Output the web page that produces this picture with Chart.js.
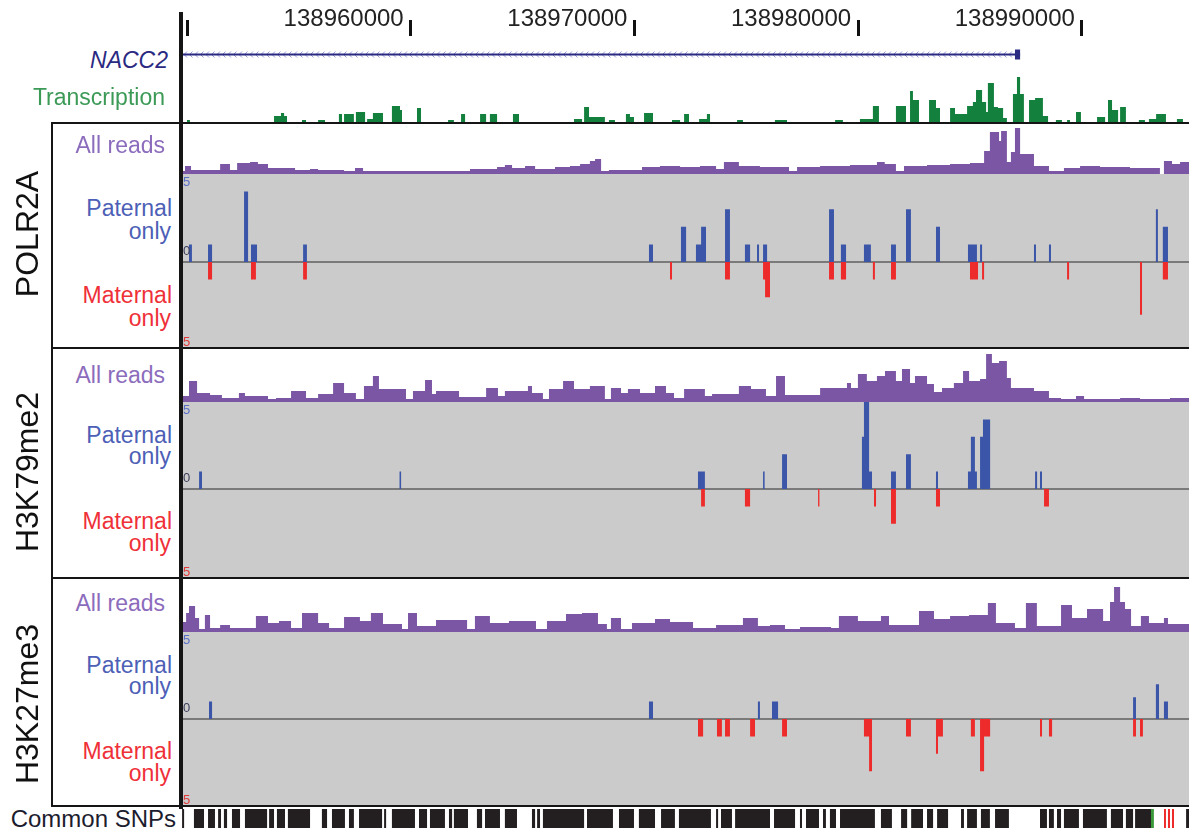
<!DOCTYPE html>
<html lang="en">
<head>
<meta charset="utf-8">
<title>NACC2 allele-specific tracks</title>
<script src="https://cdn.jsdelivr.net/npm/chart.js@4.4.1/dist/chart.umd.min.js"></script>
<style>
  html, body { margin: 0; padding: 0; background: #fff; }
  #fig { position: relative; width: 1189px; height: 832px; overflow: hidden; background: #fff;
         font-family: "Liberation Sans", Arial, Helvetica, sans-serif; }
  #fig canvas { position: absolute; }
  .lbl { position: absolute; white-space: nowrap; line-height: 1; font-size: 23px; }
  .rule { position: absolute; background: #151515; z-index: 5; }
  .scl { position: absolute; font-size: 13px; line-height: 1; z-index: 4; }
  .name { position: absolute; font-size: 32px; line-height: 1; white-space: nowrap; color: #111;
          transform: translate(-50%, -50%) rotate(-90deg); }
</style>
</head>
<body>
<div id="fig"></div>
<script>
// positions are kb from chr9:138,950,000
const REGION_ORIGIN = 138950000;
const VIEW_MIN = -0.224, VIEW_MAX = 44.79;
const axisTicks = [0, 10, 20, 30, 40];

// NACC2 (minus strand), only the 5' end is in view
const geneSpan = [-2, 37.24];
const geneExon = [37.01, 37.24];

// RNA signal: [start, end, level]
const transcription = [
  [0.00, 0.13, 2], [3.89, 4.20, 6], [4.20, 4.34, 9], [4.34, 4.47, 6], [5.14, 5.32, 2], [5.86, 6.17, 2],
  [6.79, 6.93, 8], [7.02, 7.46, 8], [7.55, 7.96, 10], [8.05, 8.31, 3], [8.31, 8.76, 9], [9.16, 9.52, 16],
  [9.52, 9.61, 12], [10.28, 10.46, 14], [11.67, 11.93, 2], [12.25, 12.43, 8], [13.10, 13.37, 8],
  [13.54, 13.86, 8], [14.57, 14.84, 8], [17.30, 17.66, 3], [17.75, 17.97, 15], [17.97, 18.68, 5],
  [18.86, 19.13, 2], [19.62, 19.80, 8], [19.80, 19.98, 5], [20.43, 20.83, 9], [21.68, 22.04, 2],
  [22.22, 22.44, 8], [22.89, 23.24, 3], [23.24, 23.38, 8], [24.59, 24.85, 2], [26.28, 26.82, 2],
  [28.97, 29.32, 2], [30.08, 30.66, 3], [30.66, 30.93, 16], [31.69, 32.14, 16], [32.32, 32.45, 31],
  [32.45, 32.72, 22], [33.17, 33.48, 22], [33.48, 33.66, 14], [34.11, 34.33, 14], [34.33, 34.87, 8],
  [34.87, 35.13, 16], [35.13, 35.27, 20], [35.27, 35.54, 32], [35.54, 35.72, 20], [35.72, 35.80, 10],
  [35.80, 36.07, 39], [36.07, 36.25, 15], [36.25, 36.48, 14], [36.48, 36.65, 4], [36.92, 37.10, 28],
  [37.10, 37.24, 45], [37.24, 37.41, 28], [37.64, 37.91, 22], [37.91, 38.26, 24], [38.26, 38.49, 6],
  [38.84, 39.11, 2], [39.34, 39.47, 2], [39.74, 39.96, 10], [40.68, 41.04, 5], [41.17, 41.35, 22],
  [41.35, 41.62, 12], [41.71, 41.97, 15], [42.55, 42.82, 2], [43.00, 43.32, 3], [43.32, 43.76, 8],
  [44.25, 44.52, 3]
];

// all-reads coverage: [position, level], each level holds until the next position
const polReads = [
  [-0.25, 3], [-0.09, 8], [0.18, 4], [1.48, 10], [1.92, 4], [2.24, 11], [2.82, 12], [3.17, 10],
  [3.62, 6], [4.83, 4], [5.50, 5], [5.86, 4], [7.02, 3], [7.51, 6], [7.87, 3], [12.65, 5],
  [13.86, 7], [14.21, 9], [14.53, 6], [15.11, 8], [15.56, 5], [16.45, 7], [17.12, 8], [17.57, 10],
  [18.01, 13], [18.24, 15], [18.51, 3], [18.86, 4], [20.34, 7], [21.14, 8], [22.04, 7], [22.93, 8],
  [23.65, 5], [24.00, 12], [24.67, 8], [25.61, 7], [26.91, 3], [27.27, 7], [28.30, 8], [29.64, 9],
  [30.84, 12], [31.19, 10], [31.69, 3], [32.05, 8], [33.08, 9], [34.11, 10], [35.00, 11], [35.63, 23],
  [35.89, 42], [36.30, 33], [36.39, 43], [36.65, 12], [36.83, 22], [37.01, 46], [37.24, 20],
  [37.86, 8], [38.53, 3], [39.20, 6], [39.92, 8], [40.81, 7], [42.15, 6], [43.49, 0], [43.67, 13],
  [44.03, 10], [44.39, 12]
];
const k79Reads = [
  [-0.25, 6], [0.09, 21], [0.45, 9], [1.03, 7], [1.56, 4], [2.32, 9], [2.59, 6], [3.62, 3],
  [3.98, 4], [4.65, 11], [5.32, 4], [5.86, 8], [6.53, 19], [7.02, 9], [7.55, 3], [7.91, 16],
  [8.31, 26], [8.58, 13], [9.79, 3], [10.10, 11], [10.64, 22], [10.95, 8], [11.13, 11], [12.16, 5],
  [13.37, 14], [13.90, 6], [14.21, 11], [15.24, 16], [15.42, 9], [15.91, 3], [16.18, 13], [16.81, 21],
  [17.30, 13], [18.01, 16], [18.68, 3], [18.95, 14], [19.40, 9], [19.71, 13], [20.25, 9], [20.92, 16],
  [21.41, 9], [21.77, 4], [22.22, 13], [23.15, 6], [23.47, 8], [24.67, 16], [25.21, 13], [25.88, 6],
  [26.33, 26], [26.73, 7], [28.30, 14], [29.50, 19], [29.68, 14], [29.99, 28], [30.39, 21],
  [30.84, 26], [31.20, 31], [31.69, 21], [31.96, 33], [32.32, 19], [32.54, 26], [33.08, 18],
  [33.39, 10], [33.75, 14], [34.28, 19], [34.69, 31], [34.96, 21], [35.45, 23], [35.72, 48],
  [35.98, 39], [36.30, 41], [36.65, 24], [36.83, 14], [37.86, 11], [38.53, 4], [39.07, 3],
  [39.74, 6], [40.10, 3], [41.71, 4], [42.60, 3], [43.94, 4]
];
const k27Reads = [
  [-0.25, 10], [-0.04, 19], [0.09, 26], [0.36, 14], [0.54, 3], [0.80, 17], [1.03, 4], [1.48, 7],
  [1.92, 4], [3.08, 16], [3.62, 9], [4.11, 11], [4.65, 4], [5.14, 19], [5.86, 9], [6.35, 4],
  [7.02, 15], [7.73, 11], [8.22, 19], [8.76, 8], [9.61, 3], [9.88, 19], [10.28, 6], [11.13, 12],
  [12.52, 3], [12.87, 16], [13.54, 9], [14.39, 11], [15.60, 3], [16.09, 11], [16.94, 18], [17.66, 19],
  [18.37, 8], [18.77, 3], [18.95, 14], [19.40, 3], [19.89, 9], [20.92, 13], [21.59, 10], [22.62, 4],
  [23.65, 7], [24.85, 14], [25.52, 6], [26.06, 7], [26.73, 3], [27.40, 5], [28.79, 4], [29.14, 16],
  [29.99, 11], [31.02, 16], [31.38, 7], [32.72, 21], [33.39, 13], [34.11, 16], [34.96, 17],
  [35.80, 29], [36.16, 9], [37.01, 4], [37.50, 29], [37.99, 6], [39.07, 27], [39.56, 14], [40.23, 23],
  [40.95, 11], [41.26, 30], [41.44, 45], [41.71, 30], [41.93, 23], [42.20, 6], [42.64, 16],
  [43.00, 9], [43.67, 14], [43.85, 8]
];

// allele-specific reads at heterozygous SNPs: [start, end, count]
const polPaternal = [
  [0.09, 0.22, 1], [0.94, 1.12, 1], [2.55, 2.73, 4], [2.86, 3.13, 1], [5.19, 5.36, 1], [20.65, 20.83, 1],
  [22.08, 22.31, 2], [22.75, 22.98, 1], [22.98, 23.20, 2], [24.05, 24.27, 3], [24.94, 25.17, 1],
  [25.48, 25.57, 1], [25.75, 25.93, 1], [28.70, 28.92, 3], [29.23, 29.46, 1], [30.26, 30.57, 1],
  [31.47, 31.69, 1], [32.14, 32.36, 3], [33.48, 33.66, 2], [34.91, 35.31, 1], [35.45, 35.54, 1],
  [37.86, 37.95, 1], [38.53, 38.62, 1], [43.31, 43.40, 3], [43.62, 43.85, 2]
];
const polMaternal = [
  [0.94, 1.12, 1], [2.86, 3.08, 1], [5.19, 5.36, 1], [21.59, 21.68, 1], [24.05, 24.27, 1],
  [25.75, 25.84, 1], [25.84, 26.06, 2], [28.70, 28.92, 1], [29.23, 29.46, 1], [30.66, 30.75, 1],
  [31.47, 31.69, 1], [35.00, 35.36, 1], [35.54, 35.63, 1], [39.34, 39.43, 1], [42.60, 42.69, 3],
  [43.62, 43.85, 1]
];
const k79Paternal = [
  [0.54, 0.67, 1], [9.50, 9.57, 1], [22.84, 23.15, 1], [25.75, 25.82, 1], [26.60, 26.82, 2],
  [30.17, 30.26, 3], [30.26, 30.49, 5], [30.49, 30.62, 1], [31.47, 31.69, 1], [32.14, 32.36, 2],
  [33.48, 33.57, 1], [34.91, 35.04, 1], [35.04, 35.22, 3], [35.22, 35.31, 1], [35.45, 35.58, 3],
  [35.58, 35.90, 4], [37.91, 38.00, 1], [38.13, 38.22, 1]
];
const k79Maternal = [
  [22.98, 23.15, 1], [24.94, 25.17, 1], [28.21, 28.27, 1], [30.71, 30.80, 1], [31.47, 31.69, 2],
  [33.48, 33.66, 1], [38.31, 38.53, 1]
];
const k27Paternal = [
  [0.98, 1.12, 1], [20.65, 20.83, 1], [25.52, 25.61, 1], [26.15, 26.42, 1], [42.29, 42.42, 1.25],
  [43.31, 43.45, 2], [43.67, 43.85, 1]
];
const k27Maternal = [
  [22.84, 23.07, 1], [23.69, 23.91, 1], [24.05, 24.27, 1], [25.17, 25.39, 1], [26.60, 26.82, 1],
  [30.26, 30.49, 1], [30.49, 30.62, 3], [32.14, 32.36, 1], [33.48, 33.57, 2], [33.57, 33.79, 1],
  [35.04, 35.22, 1], [35.45, 35.63, 3], [35.63, 35.90, 1], [38.13, 38.22, 1], [38.53, 38.67, 1],
  [42.29, 42.42, 1], [42.60, 42.73, 1]
];

// common SNP density: [start, end]
const snpBlocks = [
  [-0.22, -0.13], [0.31, 0.76], [0.94, 1.25], [1.39, 1.52], [1.65, 1.79], [2.01, 2.37], [2.59, 3.58],
  [3.67, 3.89], [4.02, 4.38], [4.51, 5.50], [6.03, 6.26], [6.48, 7.06], [7.24, 7.46], [7.69, 8.72],
  [8.81, 8.90], [9.16, 10.19], [10.37, 10.73], [10.86, 11.53], [11.71, 11.85], [11.93, 12.56],
  [12.96, 13.19], [13.32, 13.99], [14.21, 14.75], [15.42, 15.56], [15.65, 15.78], [15.91, 17.75],
  [17.88, 19.04], [19.31, 19.98], [20.20, 20.92], [21.19, 21.81], [21.99, 23.42], [23.65, 23.74],
  [23.87, 24.36], [24.50, 26.06], [26.24, 27.18], [27.40, 27.49], [27.67, 28.25], [28.43, 28.56],
  [28.74, 29.01], [29.19, 30.75], [31.02, 31.51], [31.92, 32.19], [32.37, 32.90], [33.08, 33.35],
  [33.53, 34.02], [34.60, 34.73], [34.87, 35.31], [35.49, 35.89], [36.12, 36.74], [38.13, 38.44],
  [38.53, 38.75], [38.89, 39.07], [39.20, 39.87], [40.05, 41.12], [41.30, 41.84], [41.97, 42.29],
  [42.38, 43.09], [44.66, 44.79]
];
const snpGreen = [[43.09, 43.22]];
const snpRed = [[43.67, 43.76], [43.85, 43.94], [44.03, 44.12]];

const NAVY = '#2a2a82', GREEN = '#13803d', PURPLE = '#7b56a4', BLUE = '#3b56a9', RED = '#ee2b2b';

Chart.defaults.font.family = '"Liberation Sans", Arial, Helvetica, sans-serif';

const fig = document.getElementById('fig');
const W = 1189, TRACK_X = 182, TRACK_W = W - TRACK_X;

function makeCanvas(top, height, bg) {
  const c = document.createElement('canvas');
  c.width = TRACK_W; c.height = height;
  c.style.left = TRACK_X + 'px'; c.style.top = top + 'px';
  if (bg) c.style.background = bg;
  fig.appendChild(c);
  return c;
}

function addBox(cls, css, text) {
  const d = document.createElement('div');
  d.className = cls;
  Object.assign(d.style, css);
  if (text) d.textContent = text;
  fig.appendChild(d);
  return d;
}

function rule(left, top, width, height) {
  addBox('rule', { left: left + 'px', top: top + 'px', width: width + 'px', height: height + 'px' });
}

// right-aligned row label; capTop is where the cap line should sit
function rowLabel(text, right, capTop, color, extra) {
  addBox('lbl', Object.assign({ right: (W - right) + 'px', top: (capTop - 3) + 'px', color }, extra || {}), text);
}

// step outlines for intervals and coverage
function intervalPoints(list, sign) {
  const pts = [];
  list.forEach(([s, e, v]) => {
    pts.push({ x: s, y: sign * v });
    pts.push({ x: e, y: 0 });
  });
  return pts;
}
function coveragePoints(steps) {
  const pts = steps.map(([x, v]) => ({ x, y: v }));
  pts.push({ x: VIEW_MAX + 0.2, y: steps[steps.length - 1][1] });
  return pts;
}
function area(points, color) {
  return { data: points, stepped: true, fill: 'origin', backgroundColor: color,
           borderColor: 'transparent', borderWidth: 0, pointRadius: 0 };
}

function trackOptions(yMin, yMax, yExtra) {
  return {
    responsive: false, animation: false, events: [],
    layout: { padding: 0 },
    elements: { point: { radius: 0 }, line: { tension: 0 } },
    plugins: { legend: { display: false }, tooltip: { enabled: false } },
    scales: {
      x: { type: 'linear', min: VIEW_MIN, max: VIEW_MAX, display: false },
      y: Object.assign({ min: yMin, max: yMax, display: false }, yExtra || {})
    }
  };
}

// intron chevrons along the gene body
const intronArrows = {
  id: 'intronArrows',
  beforeDatasetsDraw(chart) {
    const xs = chart.scales.x, ys = chart.scales.y, ctx = chart.ctx;
    const x0 = Math.max(xs.getPixelForValue(geneSpan[0]), chart.chartArea.left);
    const x1 = xs.getPixelForValue(geneExon[0]);
    const y = ys.getPixelForValue(0);
    ctx.save();
    ctx.strokeStyle = '#9a9ad8';
    ctx.lineWidth = 1;
    ctx.beginPath();
    for (let x = x0 + 3; x < x1 - 2; x += 5.5) {
      ctx.moveTo(x + 2, y - 3);
      ctx.lineTo(x - 1, y);
      ctx.lineTo(x + 2, y + 3);
    }
    ctx.stroke();
    ctx.restore();
  }
};

// coordinate ruler + gene model
const headerOpts = trackOptions(-1, 1);
headerOpts.scales.x = {
  type: 'linear', position: 'top', min: VIEW_MIN, max: VIEW_MAX, offset: false,
  afterBuildTicks: s => { s.ticks = axisTicks.map(v => ({ value: v })); },
  afterFit: s => { s.height = 36; },
  border: { display: false },
  grid: { drawOnChartArea: false, tickLength: 16, tickWidth: 3, tickColor: '#111' },
  ticks: {
    autoSkip: false, maxRotation: 0, align: 'end', labelOffset: -7, padding: -14,
    color: '#222', font: { size: 24 },
    // the leftmost tick has no room for its label
    callback: v => (v <= 0 ? '' : String(REGION_ORIGIN + v * 1000))
  }
};
new Chart(makeCanvas(0, 73), {
  type: 'line',
  data: { datasets: [
    { data: [{ x: geneExon[0], y: 0 }, { x: geneExon[1], y: 0 }], borderColor: NAVY,
      borderWidth: 10, borderCapStyle: 'butt', pointRadius: 0 },
    { data: [{ x: geneSpan[0], y: 0 }, { x: geneSpan[1], y: 0 }], borderColor: NAVY,
      borderWidth: 2, pointRadius: 0 }
  ] },
  options: headerOpts,
  plugins: [intronArrows]
});

new Chart(makeCanvas(72, 50), {
  type: 'line',
  data: { datasets: [area(intervalPoints(transcription, 1), GREEN)] },
  options: trackOptions(0, 50)
});

rowLabel('NACC2', 168, 52, NAVY, { fontStyle: 'italic' });
rowLabel('Transcription', 165, 89, '#3c9a57');

// ChIP panels
const panels = [
  { name: 'POLR2A', top: 123, bottom: 348, greyTop: 174, zero: 262, nameY: 234,
    reads: polReads, pat: polPaternal, mat: polMaternal, caps: [137, 200, 223, 287, 310] },
  { name: 'H3K79me2', top: 348, bottom: 578, greyTop: 402, zero: 489, nameY: 472,
    reads: k79Reads, pat: k79Paternal, mat: k79Maternal, caps: [367, 427, 448, 513, 535] },
  { name: 'H3K27me3', top: 578, bottom: 806, greyTop: 632, zero: 719, nameY: 704,
    reads: k27Reads, pat: k27Paternal, mat: k27Maternal, caps: [595, 657, 678, 743, 765] }
];

panels.forEach(p => {
  new Chart(makeCanvas(p.greyTop - 50, 50), {
    type: 'line',
    data: { datasets: [area(coveragePoints(p.reads), PURPLE)] },
    options: trackOptions(0, 50)
  });

  // +/-5 reads around the zero line
  const h = p.bottom - p.greyTop;
  const yMin = -5 * (p.bottom - p.zero) / (p.zero - p.greyTop);
  new Chart(makeCanvas(p.greyTop, h, '#cbcbcb'), {
    type: 'line',
    data: { datasets: [
      area(intervalPoints(p.pat, 1), BLUE),
      area(intervalPoints(p.mat, -1), RED)
    ] },
    options: trackOptions(yMin, 5, {
      display: true,
      border: { display: false },
      ticks: { display: false, stepSize: 5 },
      grid: { drawTicks: false, lineWidth: 2,
              color: c => (c.tick && c.tick.value === 0 ? '#7a7a7a' : 'rgba(0,0,0,0)') }
    })
  });

  addBox('scl', { left: '183px', top: (p.greyTop + 1) + 'px', color: '#5a70c8' }, '5');
  addBox('scl', { left: '183px', top: (p.zero - 18) + 'px', color: '#3c3f5a' }, '0');
  addBox('scl', { left: '183px', top: (p.bottom - 13) + 'px', color: '#e23a3a' }, '5');

  const [cAll, cPat, cPatOnly, cMat, cMatOnly] = p.caps;
  rowLabel('All reads', 165, cAll, '#8c6cbc');
  rowLabel('Paternal', 172, cPat, '#4d5fb6');
  rowLabel('only', 171, cPatOnly, '#4d5fb6');
  rowLabel('Maternal', 172, cMat, '#ef3038');
  rowLabel('only', 171, cMatOnly, '#ef3038');
  addBox('name', { left: '27px', top: p.nameY + 'px' }, p.name);

  rule(51, p.top - 1, W - 51, 2);
  rule(51, p.top - 1, 2, p.bottom - p.top + 2);
});
rule(51, 805, W - 51, 2);

// common SNPs
new Chart(makeCanvas(809, 19), {
  type: 'line',
  data: { datasets: [
    area(intervalPoints(snpBlocks.map(([s, e]) => [s, e, 1]), 1), '#231f20'),
    area(intervalPoints(snpGreen.map(([s, e]) => [s, e, 1]), 1), '#3a9a3a'),
    area(intervalPoints(snpRed.map(([s, e]) => [s, e, 1]), 1), '#ee2b2b')
  ] },
  options: trackOptions(0, 1)
});
rowLabel('Common SNPs', 176, 810, '#1c1c2e', { fontSize: '24px' });

// axis spine
rule(179, 12, 4, 797);
</script>
</body>
</html>
